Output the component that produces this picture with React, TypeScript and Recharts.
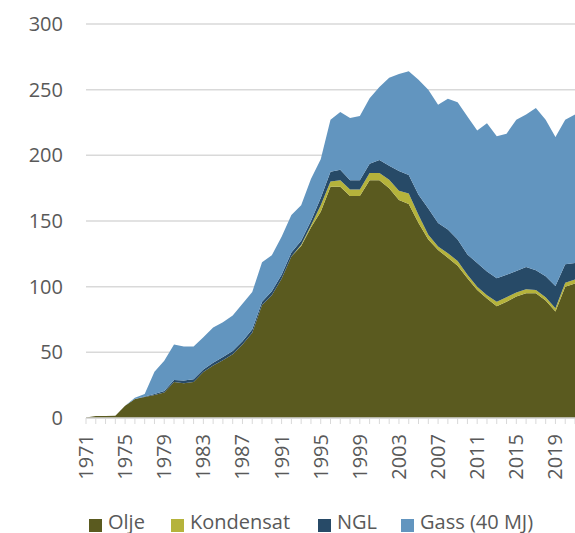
import React from 'react';
import { AreaChart, Area, XAxis, YAxis, CartesianGrid, Legend } from 'recharts';

const years = [
  1971, 1972, 1973, 1974, 1975, 1976, 1977, 1978, 1979, 1980,
  1981, 1982, 1983, 1984, 1985, 1986, 1987, 1988, 1989, 1990,
  1991, 1992, 1993, 1994, 1995, 1996, 1997, 1998, 1999, 2000,
  2001, 2002, 2003, 2004, 2005, 2006, 2007, 2008, 2009, 2010,
  2011, 2012, 2013, 2014, 2015, 2016, 2017, 2018, 2019, 2020, 2021,
];

const olje = [
  0.3, 1.6, 1.6, 1.7, 9.3, 14.5, 16, 17.5, 19.5, 27.5,
  26.5, 27.5, 35, 40, 44, 48.5, 56, 65, 86, 93.5,
  106, 123, 131, 145, 157, 176, 176, 169, 169, 181,
  181, 175, 166, 163, 148.5, 136, 128, 122, 116, 106.5,
  97.5, 91, 85, 88.5, 92.5, 95, 95, 89.5, 81, 100, 102.5,
];

const kondensat = [
  0, 0, 0, 0, 0, 0, 0, 0, 0, 0,
  0, 0, 0, 0, 0, 0, 0, 0, 0, 0,
  0, 0, 1, 1.5, 5, 4, 5, 5, 5, 5.5,
  5.5, 6.5, 7, 8, 6, 3.5, 2.5, 3.5, 3.5, 2.5,
  2.5, 2.5, 3.5, 3.5, 3, 3, 2.5, 2.5, 2.5, 3, 3,
];

const ngl = [
  0, 0, 0, 0, 0, 0, 0.3, 0.8, 1, 1.5,
  2, 2, 2, 2, 2.5, 2.5, 2.5, 2.5, 2.5, 3,
  3, 3, 3, 3.5, 5.5, 7.5, 8, 7, 7, 7,
  10, 10.5, 15, 14, 15.5, 20, 18, 18, 16.5, 15.5,
  18, 18, 18, 17, 16.5, 17, 15, 16, 17, 14, 12.5,
];

const gass = [
  0, 0, 0, 0, 0, 1, 2, 17, 23, 27,
  26, 25, 24.5, 27, 26.5, 27, 28.5, 28.5, 30, 27.5,
  29, 28.5, 27, 32, 29.5, 39.5, 44, 47.5, 49, 50,
  55.5, 67, 74, 79, 87.5, 90.5, 90, 99.5, 104.5, 105,
  101, 113, 108, 107.5, 115, 116, 123.5, 119, 113.5, 110, 113,
];

const yTicks = [0, 50, 100, 150, 200, 250, 300];

const seriesNames = ['Olje', 'Kondensat', 'NGL', 'Gass (40 MJ)'];
const seriesColors = ['#5A5A1F', '#B5B33B', '#274A67', '#6295BF'];

const data = years.map((year, i) => ({
  year,
  olje: olje[i],
  kondensat: kondensat[i],
  ngl: ngl[i],
  gass: gass[i],
}));

const FONT = '"Open Sans", sans-serif';
const TEXT = '#595959';
const GRID = '#D9D9D9';

const XTick = (props: any) => {
  const { x, y, payload } = props;
  const yr = Number(payload.value);
  if ((yr - 1971) % 4 !== 0) return null;
  return (
    <text
      x={x}
      y={y}
      transform={`rotate(-90, ${x}, ${y})`}
      textAnchor="end"
      dy="0.35em"
      fill={TEXT}
      fontSize={20}
      fontFamily={FONT}
    >
      {yr}
    </text>
  );
};

const legendX = [89, 171, 318, 401];

const renderLegend = () => (
  <div style={{ position: 'relative', width: 575, height: 24 }}>
    {seriesNames.map((name, i) => (
      <div
        key={name}
        style={{
          position: 'absolute',
          left: legendX[i],
          top: 0,
          height: 24,
          display: 'flex',
          alignItems: 'center',
          whiteSpace: 'nowrap',
        }}
      >
        <span
          style={{
            display: 'inline-block',
            width: 13,
            height: 13,
            background: seriesColors[i],
            position: 'relative',
            top: 4,
            marginRight: 6,
          }}
        />
        <span style={{ fontFamily: FONT, fontSize: 20, color: TEXT }}>{name}</span>
      </div>
    ))}
  </div>
);

export default function App() {
  return (
    <div style={{ position: 'absolute', left: 0, top: 0, background: '#fff' }}>
      <AreaChart
        width={575}
        height={533}
        data={data}
        margin={{ top: 24, right: 0, left: 0, bottom: 0 }}
      >
        <CartesianGrid vertical={false} stroke={GRID} strokeWidth={1.5} />
        <XAxis
          dataKey="year"
          interval={0}
          height={91}
          tick={<XTick />}
          tickSize={6}
          tickMargin={10}
          tickLine={{ stroke: GRID }}
          axisLine={{ stroke: GRID, strokeWidth: 1.5 }}
        />
        <YAxis
          width={86}
          domain={[0, 300]}
          ticks={yTicks}
          axisLine={false}
          tickLine={false}
          tickSize={6}
          tickMargin={17}
          tick={{ fill: TEXT, fontSize: 20, fontFamily: FONT }}
        />
        <Legend
          verticalAlign="bottom"
          content={renderLegend}
          wrapperStyle={{ left: 0, width: 575, height: 24 }}
        />
        <Area type="linear" dataKey="olje" name={seriesNames[0]} stackId="1" fill={seriesColors[0]} stroke="none" fillOpacity={1} isAnimationActive={false} />
        <Area type="linear" dataKey="kondensat" name={seriesNames[1]} stackId="1" fill={seriesColors[1]} stroke="none" fillOpacity={1} isAnimationActive={false} />
        <Area type="linear" dataKey="ngl" name={seriesNames[2]} stackId="1" fill={seriesColors[2]} stroke="none" fillOpacity={1} isAnimationActive={false} />
        <Area type="linear" dataKey="gass" name={seriesNames[3]} stackId="1" fill={seriesColors[3]} stroke="none" fillOpacity={1} isAnimationActive={false} />
      </AreaChart>
    </div>
  );
}
